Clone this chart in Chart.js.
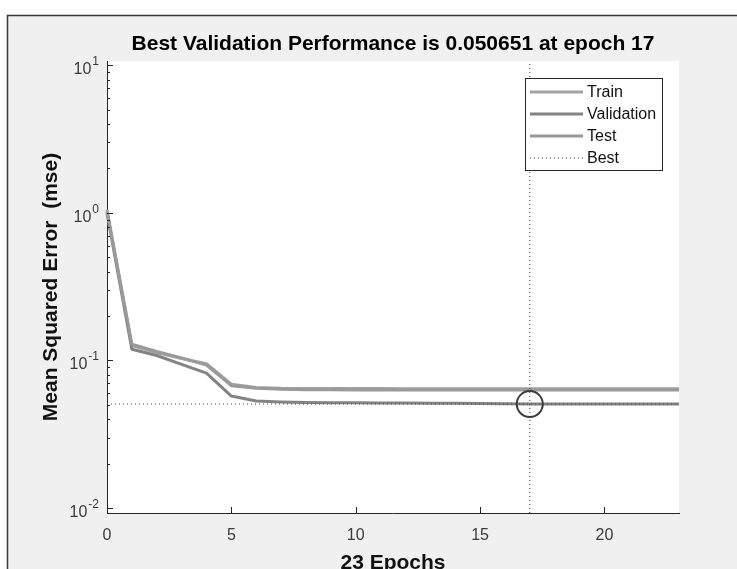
<!DOCTYPE html>
<html>
<head>
<meta charset="utf-8">
<script src="https://cdn.jsdelivr.net/npm/chart.js@4/dist/chart.umd.min.js"></script>
<style>
  html, body { margin: 0; padding: 0; background: #fff; }
  canvas { display: block; }
</style>
</head>
<body>
<canvas id="perfChart" width="737" height="569"></canvas>
<script>
// performance per epoch (0..23)
var epochs = [0, 1, 2, 3, 4, 5, 6, 7, 8, 9, 10, 11, 12, 13, 14, 15, 16, 17, 18, 19, 20, 21, 22, 23];
var trainPerf = [1.05, 0.126, 0.113, 0.103, 0.095, 0.069, 0.0656, 0.0648, 0.0646, 0.0645, 0.0645, 0.0645, 0.0644, 0.0644, 0.0644, 0.0644, 0.0644, 0.0644, 0.0644, 0.0644, 0.0644, 0.0644, 0.0644, 0.0644];
var valPerf   = [1.00, 0.119, 0.108, 0.094, 0.082, 0.0574, 0.0531, 0.0523, 0.0519, 0.0517, 0.0516, 0.0515, 0.0514, 0.0513, 0.0512, 0.0511, 0.0509, 0.050651, 0.0507, 0.0507, 0.0507, 0.0507, 0.0507, 0.0507];
var testPerf  = [1.02, 0.129, 0.115, 0.104, 0.093, 0.0675, 0.0647, 0.0638, 0.0634, 0.0632, 0.0631, 0.0631, 0.063, 0.063, 0.063, 0.063, 0.063, 0.063, 0.063, 0.063, 0.063, 0.063, 0.063, 0.063];

var bestEpoch = 17;
var bestPerf  = 0.050651;

var xTickValues = [0, 5, 10, 15, 20];
var yTickValues = [0.01, 0.1, 1, 10];
var yTickBase   = '10';
var yTickExps   = ['-2', '-1', '0', '1'];

var xMin = 0, xMax = 23;
var yMin = 0.00925, yMax = 10.7;

var FONT = "'Liberation Sans', Arial, Helvetica, sans-serif";
var AXIS_COLOR = '#262626';
var TICK_COLOR = '#3a3a3a';

function pts(ys) {
  return ys.map(function(v, i) { return { x: epochs[i], y: v }; });
}

// figure background with its frame, and the white axes box
var backgroundPlugin = {
  id: 'figureBg',
  beforeDraw: function(chart) {
    var ctx = chart.ctx, a = chart.chartArea;
    ctx.save();
    ctx.fillStyle = '#ffffff';
    ctx.fillRect(0, 0, chart.width, chart.height);
    ctx.fillStyle = '#f0f0f0';
    ctx.fillRect(7, 15, chart.width - 7, chart.height - 15);
    ctx.strokeStyle = '#3a3a3a';
    ctx.lineWidth = 1.5;
    ctx.beginPath();
    ctx.moveTo(7.5, chart.height);
    ctx.lineTo(7.5, 15.5);
    ctx.lineTo(chart.width, 15.5);
    ctx.stroke();
    ctx.fillStyle = '#ffffff';
    ctx.fillRect(a.left, a.top, a.right - a.left, a.bottom - a.top);
    ctx.restore();
  }
};

// inward ticks like matlab (major + log minor), and 10^n labels with a raised exponent
var tickPlugin = {
  id: 'inTicks',
  afterDatasetsDraw: function(chart) {
    var ctx = chart.ctx, a = chart.chartArea;
    var xs = chart.scales.x, ys = chart.scales.y;
    ctx.save();
    ctx.strokeStyle = AXIS_COLOR;
    ctx.lineWidth = 1;
    ctx.beginPath();
    xTickValues.forEach(function(v) {
      var px = Math.round(xs.getPixelForValue(v)) + 0.5;
      ctx.moveTo(px, a.bottom);
      ctx.lineTo(px, a.bottom - 6);
    });
    for (var d = -3; d <= 1; d++) {
      for (var k = 1; k <= 9; k++) {
        var v = k * Math.pow(10, d);
        if (v < yMin || v > yMax) continue;
        var py = Math.round(ys.getPixelForValue(v)) + 0.5;
        ctx.moveTo(a.left, py);
        ctx.lineTo(a.left + (k === 1 ? 6 : 3), py);
      }
    }
    ctx.stroke();

    ctx.fillStyle = TICK_COLOR;
    ctx.textBaseline = 'middle';
    ctx.textAlign = 'left';
    yTickValues.forEach(function(v, i) {
      var py = ys.getPixelForValue(v);
      var right = a.left - 8;
      ctx.font = '12px ' + FONT;
      var ew = ctx.measureText(yTickExps[i]).width;
      ctx.font = '16px ' + FONT;
      var bw = ctx.measureText(yTickBase).width;
      ctx.fillText(yTickBase, right - ew - bw - 1, py + 4.5);
      ctx.font = '12px ' + FONT;
      ctx.fillText(yTickExps[i], right - ew, py - 3.5);
    });
    ctx.restore();
  }
};

// boxed legend in the upper right corner of the axes
var legendPlugin = {
  id: 'boxLegend',
  afterDraw: function(chart) {
    var ctx = chart.ctx, a = chart.chartArea;
    var items = chart.data.datasets.filter(function(ds) { return ds.inLegend; });
    var w = 137, h = 92;
    var left = a.right - 17 - w, top = a.top + 17;
    ctx.save();
    ctx.fillStyle = '#ffffff';
    ctx.fillRect(left, top, w, h);
    ctx.strokeStyle = AXIS_COLOR;
    ctx.lineWidth = 1;
    ctx.strokeRect(left + 0.5, top + 0.5, w, h);
    ctx.font = '16px ' + FONT;
    ctx.textBaseline = 'middle';
    ctx.textAlign = 'left';
    items.forEach(function(ds, i) {
      var y = top + 14 + i * 22;
      ctx.strokeStyle = ds.borderColor;
      ctx.lineWidth = ds.borderWidth;
      ctx.setLineDash(ds.borderDash || []);
      ctx.beginPath();
      ctx.moveTo(left + 5, y);
      ctx.lineTo(left + 58, y);
      ctx.stroke();
      ctx.setLineDash([]);
      ctx.fillStyle = '#111';
      ctx.fillText(ds.label, left + 62, y + 1);
    });
    ctx.restore();
  }
};

var ctx = document.getElementById('perfChart').getContext('2d');
new Chart(ctx, {
  type: 'line',
  data: {
    datasets: [
      { label: 'Train', data: pts(trainPerf), borderColor: '#a2a2a2', borderWidth: 3, inLegend: true, order: 5 },
      { label: 'Validation', data: pts(valPerf), borderColor: '#838383', borderWidth: 3, inLegend: true, order: 4 },
      { label: 'Test', data: pts(testPerf), borderColor: '#9a9a9a', borderWidth: 3, inLegend: true, order: 3 },
      { label: 'Best', data: [{ x: bestEpoch, y: yMin }, { x: bestEpoch, y: yMax }],
        borderColor: '#444', borderWidth: 1, borderDash: [1, 3], inLegend: true, order: 2 },
      { label: 'Best', data: [{ x: xMin, y: bestPerf }, { x: xMax, y: bestPerf }],
        borderColor: '#444', borderWidth: 1, borderDash: [1, 3], order: 2 },
      { label: 'Best point', data: [{ x: bestEpoch, y: bestPerf }], showLine: false,
        pointRadius: 13, pointBorderWidth: 2, pointBorderColor: '#3c3c3c',
        pointBackgroundColor: 'rgba(0,0,0,0)', order: 1 }
    ]
  },
  options: {
    responsive: false,
    animation: false,
    clip: false,
    elements: {
      point: { radius: 0, hoverRadius: 0 },
      line: { tension: 0, fill: false, borderJoinStyle: 'round', borderCapStyle: 'butt' }
    },
    layout: { padding: { left: 0, right: 58, top: 0, bottom: 0 } },
    scales: {
      x: {
        type: 'linear',
        min: xMin,
        max: xMax,
        grid: { display: false, drawTicks: false },
        border: { display: true, color: AXIS_COLOR, width: 1 },
        afterBuildTicks: function(s) { s.ticks = xTickValues.map(function(v) { return { value: v }; }); },
        afterFit: function(s) { s.height = 56; },
        ticks: {
          padding: 13,
          maxRotation: 0,
          color: TICK_COLOR,
          font: { family: FONT, size: 16 }
        },
        title: {
          display: true,
          text: epochs.length - 1 + ' Epochs',
          color: '#111',
          font: { family: FONT, size: 21, weight: 'bold' },
          padding: { top: 0, bottom: -6.5 }
        }
      },
      y: {
        type: 'logarithmic',
        min: yMin,
        max: yMax,
        grid: { display: false, drawTicks: false },
        border: { display: true, color: AXIS_COLOR, width: 1 },
        afterBuildTicks: function(s) { s.ticks = yTickValues.map(function(v) { return { value: v }; }); },
        afterFit: function(s) { s.width = 107; },
        // labels are drawn by the inTicks plugin (base + raised exponent)
        ticks: { display: false },
        title: {
          display: true,
          text: 'Mean Squared Error  (mse)',
          color: '#111',
          font: { family: FONT, size: 21, weight: 'bold' },
          padding: { top: 38.5, bottom: 0 }
        }
      }
    },
    plugins: {
      legend: { display: false },
      tooltip: { enabled: false },
      title: {
        display: true,
        fullSize: false,
        text: 'Best Validation Performance is ' + bestPerf + ' at epoch ' + bestEpoch,
        color: '#000',
        font: { family: FONT, size: 21, weight: 'bold' },
        padding: { top: 31.4, bottom: 4.4 }
      }
    }
  },
  plugins: [backgroundPlugin, tickPlugin, legendPlugin]
});
</script>
</body>
</html>
